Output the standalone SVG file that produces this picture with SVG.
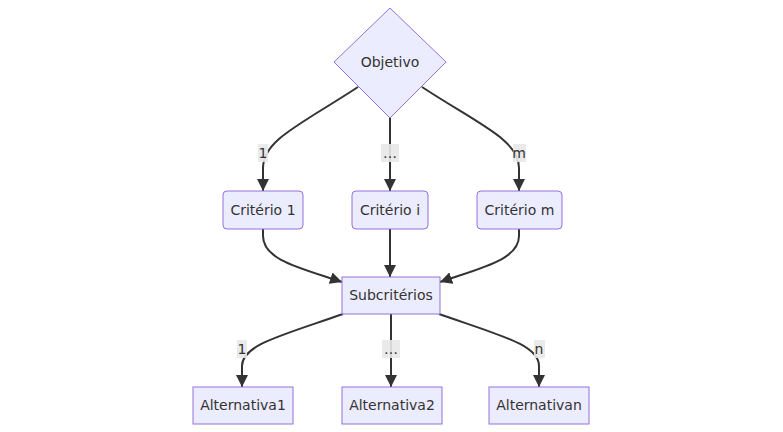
<svg xmlns="http://www.w3.org/2000/svg" width="783" height="432" viewBox="0 0 783 432">
<style>
.node{fill:#ECECFF;stroke:#9370DB;stroke-width:1}
.t{font-family:"DejaVu Sans",Verdana,sans-serif;font-size:14px;fill:#333;text-anchor:middle;dominant-baseline:central}
.e{fill:none;stroke:#333;stroke-width:2}
.lb{fill:#e8e8e8;opacity:0.9}
</style>
<defs>
<marker id="arr" viewBox="0 0 10 10" refX="10" refY="5" markerWidth="6" markerHeight="6" markerUnits="strokeWidth" orient="auto">
<path d="M0,0 L10,5 L0,10 z" fill="#333"/>
</marker>
</defs>
<rect width="783" height="432" fill="#fff"/>
<g id="connectors">
<path class="e" marker-end="url(#arr)" d="M358,87 C300,125 263,140 263,168 L263,191"/>
<path class="e" marker-end="url(#arr)" d="M390,118 L390,191"/>
<path class="e" marker-end="url(#arr)" d="M422,87 C480,125 519,140 519,168 L519,191"/>
<path class="e" marker-end="url(#arr)" d="M263,229 L263,236 C263,260 300,268 342,282"/>
<path class="e" marker-end="url(#arr)" d="M390,229 L390,277"/>
<path class="e" marker-end="url(#arr)" d="M519,229 L519,236 C519,260 480,268 440,282"/>
<path class="e" marker-end="url(#arr)" d="M343,314 C280,336 242,345 242,366 L242,387"/>
<path class="e" marker-end="url(#arr)" d="M391,314 L391,387"/>
<path class="e" marker-end="url(#arr)" d="M439,314 C502,336 539,345 539,366 L539,387"/>
<g id="labels">
<rect class="lb" x="258" y="144" width="10" height="18"/><text class="t" x="263" y="153">1</text>
<rect class="lb" x="381" y="144" width="18" height="18"/><text class="t" x="390" y="153">…</text>
<rect class="lb" x="513" y="144" width="13" height="18"/><text class="t" x="519" y="153">m</text>
<rect class="lb" x="237" y="340" width="10" height="18"/><text class="t" x="242" y="349">1</text>
<rect class="lb" x="382" y="340" width="18" height="18"/><text class="t" x="391" y="349">…</text>
<rect class="lb" x="534" y="340" width="11" height="18"/><text class="t" x="539" y="349">n</text>
</g>
</g>
<g id="objetivo"><polygon class="node" points="390,8 446,62 390,118 334,62"/><text class="t" x="390" y="62">Objetivo</text></g>
<g id="criterio1"><rect class="node" x="223" y="191" width="80" height="38" rx="4"/><text class="t" x="263" y="210">Critério 1</text></g>
<g id="criterioi"><rect class="node" x="352" y="191" width="76" height="38" rx="4"/><text class="t" x="390" y="210">Critério i</text></g>
<g id="criteriom"><rect class="node" x="477" y="191" width="85" height="38" rx="4"/><text class="t" x="519.5" y="210">Critério m</text></g>
<g id="subcriterios"><rect class="node" x="342" y="277" width="98" height="37"/><text class="t" x="391" y="295">Subcritérios</text></g>
<g id="alternativa1"><rect class="node" x="193" y="387" width="100" height="37"/><text class="t" x="243" y="405">Alternativa1</text></g>
<g id="alternativa2"><rect class="node" x="342" y="387" width="100" height="37"/><text class="t" x="392" y="405">Alternativa2</text></g>
<g id="alternativan"><rect class="node" x="489" y="387" width="100" height="37"/><text class="t" x="539" y="405">Alternativan</text></g>
</svg>
